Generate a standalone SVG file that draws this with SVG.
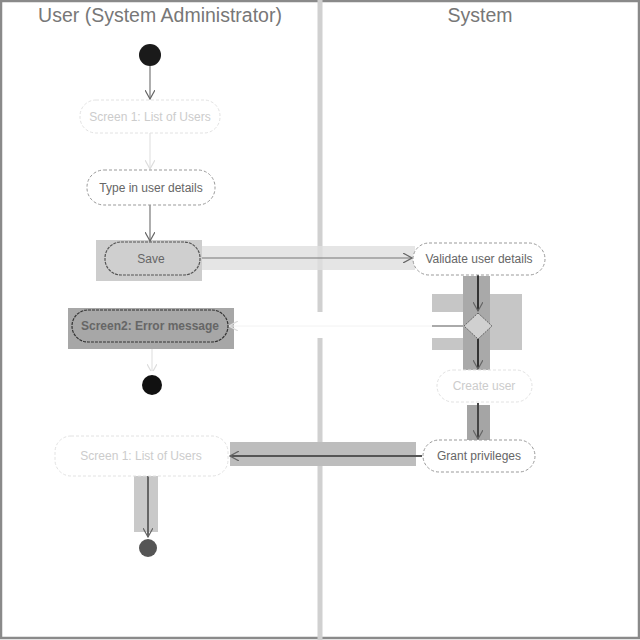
<svg xmlns="http://www.w3.org/2000/svg" width="640" height="640" viewBox="0 0 640 640">
<defs>
<marker id="arr" markerWidth="10" markerHeight="10" refX="9" refY="5" orient="auto" markerUnits="userSpaceOnUse">
<path d="M0,0 L9,5 L0,10" fill="none" stroke="#666" stroke-width="1.2"/>
</marker>
<marker id="arrf" markerWidth="10" markerHeight="10" refX="9" refY="5" orient="auto" markerUnits="userSpaceOnUse">
<path d="M0,0 L9,5 L0,10" fill="none" stroke="#ddd" stroke-width="1.2"/>
</marker>
</defs>
<style>
.lane{font-family:"Liberation Sans",Arial,sans-serif;font-size:19.5px;fill:#777;text-anchor:middle}
.t{font-family:"Liberation Sans",Arial,sans-serif;font-size:12px;fill:#666;text-anchor:middle}
.tf{font-family:"Liberation Sans",Arial,sans-serif;font-size:12px;fill:#ccc;text-anchor:middle}
.node{fill:#fff;stroke:#999;stroke-width:1;stroke-dasharray:3 2}
.nodef{fill:#fff;stroke:#e2e2e2;stroke-width:1;stroke-dasharray:3 2}
.c{fill:none;stroke:#777;stroke-width:1.2}
.cf{fill:none;stroke:#ddd;stroke-width:1}
</style>
<rect x="0" y="0" width="640" height="640" fill="#fff"/>
<rect x="1" y="1" width="638" height="637" fill="none" stroke="#8a8a8a" stroke-width="2.5"/>
<rect x="317.5" y="0" width="5" height="640" fill="#d0d0d0"/>
<rect x="316" y="312" width="8" height="26" fill="#fff"/>
<text class="lane" x="160" y="22">User (System Administrator)</text>
<text class="lane" x="480" y="22">System</text>

<g id="highlights">
<rect x="96" y="240" width="106" height="41" fill="#cdcdcd"/>
<rect x="202" y="246" width="213" height="24" fill="#dedede" opacity="0.8"/>
<rect x="68" y="308" width="166" height="41" fill="#a7a7a7"/>
<rect x="138" y="349" width="30" height="8" fill="#fff"/>
<rect x="432" y="294" width="90" height="56" fill="#c6c6c6"/>
<rect x="432" y="312" width="34" height="26" fill="#fff"/>
<rect x="463" y="276" width="27" height="94" fill="#a9a9a9"/>
<rect x="467" y="405" width="23" height="35" fill="#a5a5a5"/>
<rect x="230" y="442" width="186" height="24" fill="#bdbdbd"/>
<rect x="134" y="472" width="24" height="60" fill="#c9c9c9"/>
</g>

<g id="connectors">
<line class="c" x1="150" y1="66" x2="150" y2="99" marker-end="url(#arr)"/>
<line class="cf" x1="150" y1="133" x2="150" y2="169" marker-end="url(#arrf)"/>
<line class="c" x1="150" y1="205" x2="150" y2="241" marker-end="url(#arr)"/>
<line class="c" x1="202" y1="258" x2="412" y2="258" marker-end="url(#arr)"/>
<line x1="478" y1="275" x2="478" y2="311" stroke="#333" stroke-width="2" marker-end="url(#arr)"/>
<line x1="464" y1="326" x2="229" y2="326" stroke="#f2f2f2" stroke-width="1" marker-end="url(#arrf)"/>
<line x1="432" y1="326" x2="466" y2="326" stroke="#aaa" stroke-width="2"/>
<line x1="478" y1="339" x2="478" y2="369" stroke="#333" stroke-width="2" marker-end="url(#arr)"/>
<line class="cf" x1="152" y1="349" x2="152" y2="373" marker-end="url(#arrf)"/>
<line x1="478" y1="403" x2="478" y2="439" stroke="#444" stroke-width="2" marker-end="url(#arr)"/>
<line x1="422" y1="456" x2="230" y2="456" stroke="#555" stroke-width="2" marker-end="url(#arr)"/>
<line x1="148" y1="474" x2="148" y2="537" stroke="#666" stroke-width="2" marker-end="url(#arr)"/>
</g>

<g id="start">
<circle cx="150" cy="55" r="11" fill="#1a1a1a"/>
</g>
<g id="n-list1">
<rect class="nodef" x="80" y="100" width="140" height="33" rx="16"/>
<text class="tf" x="150" y="121">Screen 1: List of Users</text>
</g>
<g id="n-type">
<rect class="node" x="87" y="170" width="128" height="35" rx="17" stroke="#bbb"/>
<text class="t" x="151" y="192" fill="#888">Type in user details</text>
</g>
<g id="n-save">
<rect x="105" y="242" width="95" height="33" rx="16" fill="#cfcfcf" stroke="#555" stroke-width="1.2" stroke-dasharray="3 1"/>
<text class="t" x="151" y="263" fill="#444">Save</text>
</g>
<g id="n-validate">
<rect class="node" x="413" y="243" width="132" height="32" rx="16"/>
<text class="t" x="479" y="263" fill="#777">Validate user details</text>
</g>
<g id="n-decision">
<polygon points="478,313 492,326 478,339 464,326" fill="#d0d0d0" stroke="#666" stroke-width="1" stroke-dasharray="2 1"/>
</g>
<g id="n-error">
<rect x="72" y="310" width="156" height="32" rx="16" fill="#a7a7a7" stroke="#333" stroke-width="1.2" stroke-dasharray="3 1"/>
<text class="t" x="150" y="330" fill="#222" font-weight="bold">Screen2: Error message</text>
</g>
<g id="end1">
<circle cx="152" cy="385" r="14" fill="#fff"/>
<circle cx="152" cy="385" r="10" fill="#111"/>
</g>
<g id="n-create">
<rect class="nodef" x="437" y="370" width="95" height="32" rx="16"/>
<text class="tf" x="484" y="390" fill="#bbb">Create user</text>
</g>
<g id="n-grant">
<rect class="node" x="423" y="440" width="112" height="32" rx="16" stroke="#bbb"/>
<text class="t" x="479" y="460" fill="#888">Grant privileges</text>
</g>
<g id="n-list2">
<rect class="nodef" x="55" y="436" width="173" height="40" rx="16"/>
<text class="tf" x="141" y="460">Screen 1: List of Users</text>
</g>
<g id="end2">
<circle cx="148" cy="548" r="9" fill="#555"/>
</g>
</svg>
